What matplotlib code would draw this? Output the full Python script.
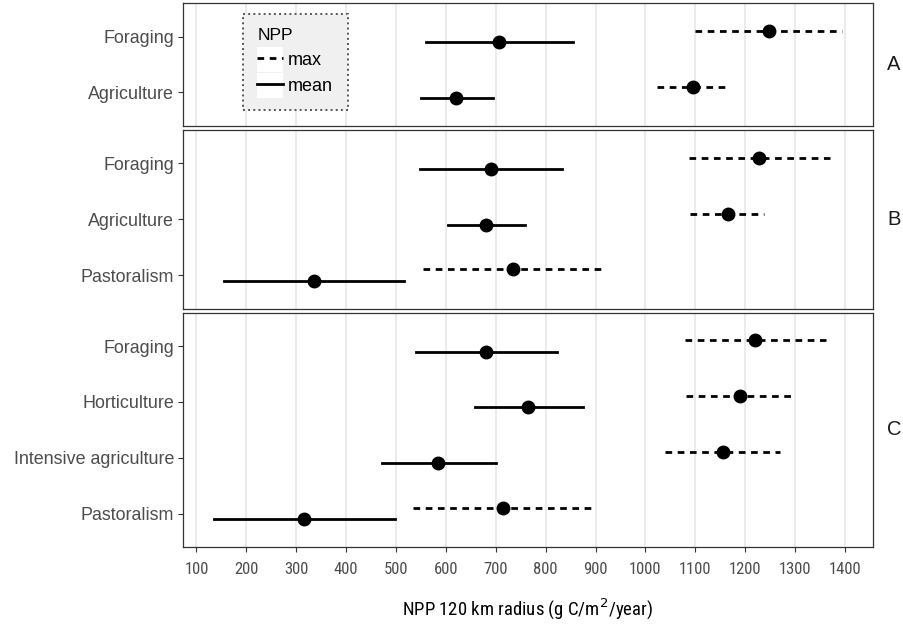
import matplotlib
matplotlib.use('Agg')
import matplotlib.pyplot as plt
from matplotlib import font_manager
from matplotlib.legend_handler import HandlerLine2D
from matplotlib.lines import Line2D
from matplotlib.patches import Rectangle

plt.rcParams['font.family'] = ['Liberation Sans', 'DejaVu Sans']

# data: (low, point, high) per row, NPP g C/m2/year
panel_names = ['A', 'B', 'C']

cats_a = ['Foraging', 'Agriculture']
mean_a = [(561, 707, 855), (551, 621, 695)]
max_a = [(1100, 1247, 1394), (1023, 1096, 1168)]

cats_b = ['Foraging', 'Agriculture', 'Pastoralism']
mean_b = [(549, 690, 833), (604, 680, 758), (155, 335, 516)]
max_b = [(1088, 1228, 1370), (1090, 1166, 1237), (554, 735, 917)]

cats_c = ['Foraging', 'Horticulture', 'Intensive agriculture', 'Pastoralism']
mean_c = [(540, 680, 823), (659, 765, 875), (471, 585, 700), (135, 316, 498)]
max_c = [(1079, 1219, 1361), (1081, 1189, 1298), (1040, 1155, 1270), (534, 715, 897)]

x_ticks = list(range(100, 1500, 100))

panels = [(cats_a, mean_a, max_a), (cats_b, mean_b, max_b), (cats_c, mean_c, max_c)]

DASH = (0, (2.4, 2.0))
DODGE = 0.1
LABELSPACING = 0.4

# the x axis text in the original is set in a narrow face
installed = {f.name for f in font_manager.fontManager.ttflist}
narrow = next((n for n in ['Liberation Sans Narrow', 'Arial Narrow', 'Roboto Condensed',
                           'Open Sans Condensed', 'DejaVu Sans Condensed']
               if n in installed), None)
if narrow:
    narrow_kw = {'family': [narrow, 'Liberation Sans']}
else:
    narrow_kw = {'family': ['DejaVu Sans'], 'stretch': 'condensed'}


class KeyHandler(HandlerLine2D):
    # legend key with a white background like ggplot
    def create_artists(self, legend, orig_handle, xdescent, ydescent,
                       width, height, fontsize, trans):
        pad = LABELSPACING * fontsize / 2
        bg = Rectangle((-xdescent, -ydescent - pad), width, height + 2 * pad,
                       facecolor='white', edgecolor='none', transform=trans)
        arts = super().create_artists(legend, orig_handle, xdescent, ydescent,
                                      width, height, fontsize, trans)
        return [bg] + arts


fig, axes = plt.subplots(
    3, 1, figsize=(9.04, 6.30), dpi=100, sharex=True,
    gridspec_kw={'height_ratios': [len(p[0]) + 0.2 for p in panels], 'hspace': 0.0224})
fig.subplots_adjust(left=0.2024, right=0.9657, top=0.9952, bottom=0.1317)

for ax, (cats, means, maxs), name in zip(axes, panels, panel_names):
    for i, (lo, mid, hi) in enumerate(maxs):
        ax.plot([lo, hi], [i - DODGE, i - DODGE], color='black', lw=2.0, ls=DASH)
        ax.plot(mid, i - DODGE, 'o', color='black', ms=9)
    for i, (lo, mid, hi) in enumerate(means):
        ax.plot([lo, hi], [i + DODGE, i + DODGE], color='black', lw=2.0)
        ax.plot(mid, i + DODGE, 'o', color='black', ms=9)

    ax.set_ylim(len(cats) - 0.4, -0.6)
    ax.set_yticks(range(len(cats)))
    ax.set_yticklabels(cats)
    ax.set_xlim(73, 1456)
    ax.set_xticks(x_ticks)
    ax.grid(axis='x', color='#EBEBEB', lw=1.4)
    ax.set_axisbelow(True)
    for sp in ax.spines.values():
        sp.set_color('#333333')
        sp.set_linewidth(0.9)
    ax.tick_params(axis='y', length=3.5, width=0.8, color='#333333',
                   labelsize=12.9, labelcolor='#4D4D4D', pad=3)
    ax.tick_params(axis='x', length=3.5, width=0.8, color='#333333',
                   labelsize=12, labelcolor='#4D4D4D', pad=7.5)
    ax.text(1 + 21 / 690, 0.5, name, transform=ax.transAxes, ha='center',
            va='center', fontsize=14.5, color='#1A1A1A')

for ax in axes[:-1]:
    ax.tick_params(axis='x', bottom=False, labelbottom=False)

bottom = axes[-1]
for lab in bottom.get_xticklabels():
    lab.set(**narrow_kw)
bottom.set_xlabel('NPP 120 km radius (g C/m$^2$/year)', fontsize=13.5,
                  labelpad=14, **narrow_kw)

handles = [Line2D([], [], color='black', lw=2.0, ls=DASH),
           Line2D([], [], color='black', lw=2.0)]
leg = axes[0].legend(handles, ['max', 'mean'], title='NPP', loc='upper left',
                     bbox_to_anchor=(0.087, 0.911), borderaxespad=0,
                     fontsize=13, title_fontsize=12.5, alignment='left',
                     handlelength=1.4, handleheight=1.1, handletextpad=0.3,
                     labelspacing=LABELSPACING, borderpad=0.8, fancybox=False,
                     handler_map={Line2D: KeyHandler()})
frame = leg.get_frame()
frame.set_facecolor('#F0F0F0')
frame.set_edgecolor('#555555')
frame.set_linestyle(':')
frame.set_linewidth(1.4)
frame.set_alpha(1)

fig.savefig('out.png', dpi=100)
